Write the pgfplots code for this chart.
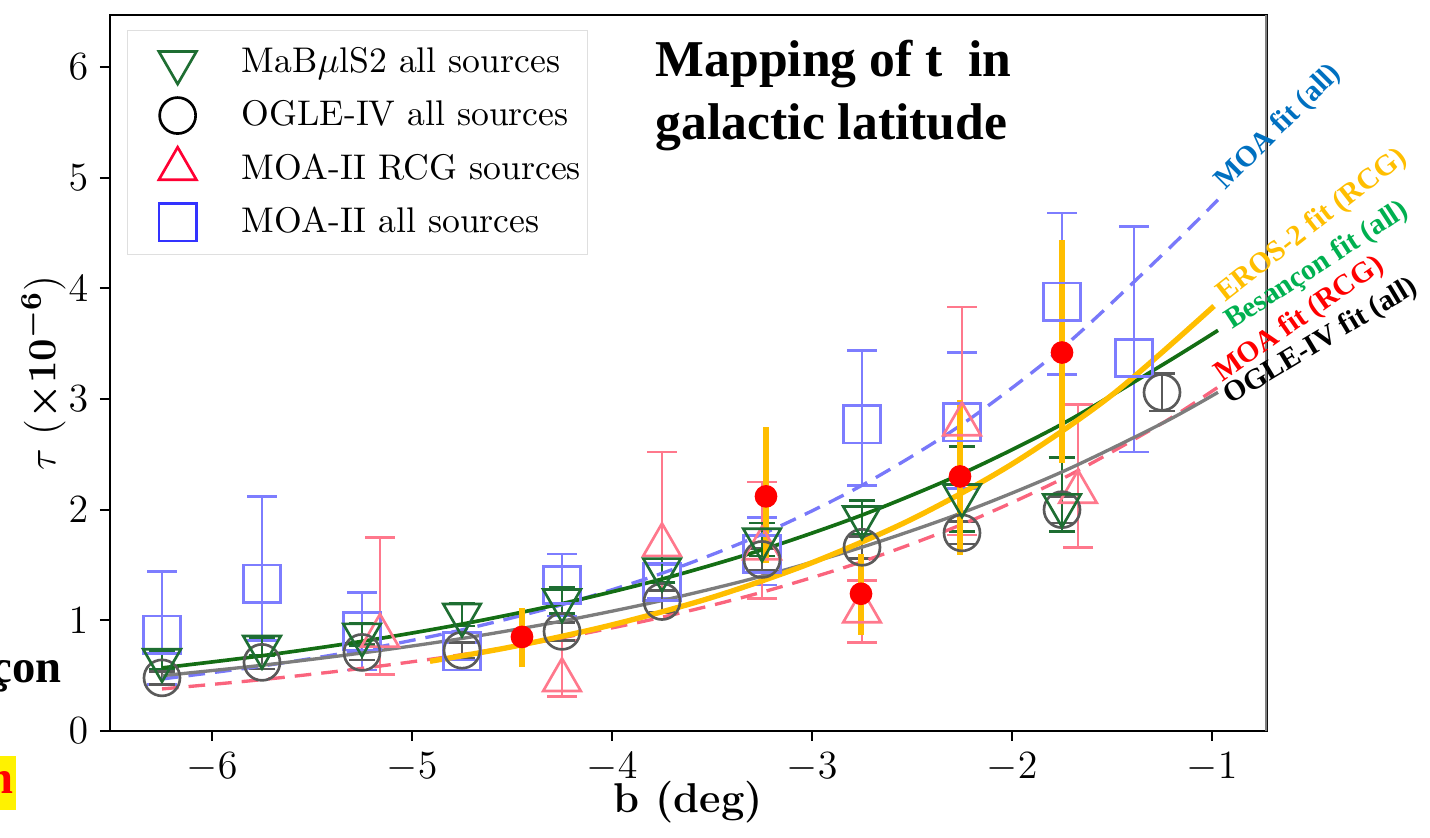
\documentclass[border=0pt]{standalone}
\usepackage{fontspec}
\usepackage{amsmath}
\usepackage{pgfplots}
\pgfplotsset{compat=1.18}
\newfontfamily\timesb{Liberation Serif}

\definecolor{moaall}{RGB}{125,125,255}
\definecolor{moarcg}{RGB}{255,120,140}
\definecolor{mabgreen}{RGB}{30,110,50}
\definecolor{oglegray}{RGB}{90,90,90}
\definecolor{besgreen}{RGB}{20,110,20}
\definecolor{fitgray}{RGB}{125,125,125}
\definecolor{moafitall}{RGB}{120,120,250}
\definecolor{moafitrcg}{RGB}{250,100,125}
\definecolor{erosgold}{RGB}{255,190,0}
\definecolor{lblblue}{RGB}{0,112,192}
\definecolor{lblgreen}{RGB}{0,176,80}

\begin{document}
\begin{tikzpicture}
\useasboundingbox (0,0) rectangle (429pt,251.4pt);
\begin{axis}[
  at={(33pt,32.1pt)}, anchor=south west,
  scale only axis, width=347.1pt, height=214.8pt,
  xmin=-6.51, xmax=-0.725, ymin=0, ymax=6.47,
  xtick={-6,-5,-4,-3,-2,-1}, ytick={0,1,2,3,4,5,6},
  tick align=outside, tick pos=left, major tick length=3pt,
  axis line style={line width=0.8pt},
  every tick/.style={black, line width=0.6pt},
  tick label style={font=\fontsize{12.5}{14}\selectfont},
  label style={font=\fontsize{12.5}{14}\selectfont},
  xlabel={\textbf{b (deg)}},
  ylabel={$\tau$\ ({\boldmath$\times10^{-6}$})},
  xlabel shift=-7pt, ylabel shift=-6pt,
  legend style={at={(0.0147,0.979)}, anchor=north west, draw=gray!25,
    font=\fontsize{10.7}{12}\selectfont, row sep=2.9pt, inner ysep=3pt, inner xsep=0pt},
  legend cell align=left,
  legend image code/.code={\path (0cm,0cm) (1.12cm,0cm); \draw[#1] plot coordinates {(0.52cm,0cm)};},
]
\addlegendimage{only marks, mark=triangle, mark size=6.5pt, mark options={rotate=180, draw=mabgreen, line width=0.8pt}}
\addlegendentry{MaB$\mu$lS2 all sources}
\addlegendimage{only marks, mark=o, mark size=5.4pt, mark options={draw=black, line width=0.8pt}}
\addlegendentry{OGLE-IV all sources}
\addlegendimage{only marks, mark=triangle, mark size=6.5pt, mark options={draw=red!80!magenta, line width=0.8pt}}
\addlegendentry{MOA-II RCG sources}
\addlegendimage{only marks, mark=square, mark size=5.6pt, mark options={draw=blue!80, line width=0.8pt}}
\addlegendentry{MOA-II all sources}

% MOA-II all sources
\addplot[only marks, mark=square, mark size=5.6pt, color=moaall, line width=0.8pt, forget plot,
  error bars/.cd, y dir=both, y explicit,
  error bar style={moaall, line width=0.8pt},
  error mark options={rotate=90, moaall, mark size=4.5pt, line width=0.8pt}]
  table[x=x, y=y, y error plus=ep, y error minus=em] {
x y ep em
-6.25 0.87 0.57 0.45
-5.75 1.33 0.79 0.51
-5.25 0.90 0.35 0.35
-4.75 0.72 0.08 0.08
-4.25 1.32 0.28 0.28
-3.75 1.35 0.15 0.15
-3.25 1.60 0.33 0.28
-2.75 2.77 0.67 0.55
-2.25 2.79 0.63 0.60
-1.75 3.88 0.80 0.66
-1.39 3.37 1.19 0.85
};

% MOA-II RCG sources
\addplot[only marks, mark=triangle, mark size=6.5pt, color=moarcg, line width=0.8pt, forget plot,
  error bars/.cd, y dir=both, y explicit,
  error bar style={moarcg, line width=0.8pt},
  error mark options={rotate=90, moarcg, mark size=4.5pt, line width=0.8pt}]
  table[x=x, y=y, y error plus=ep, y error minus=em] {
x y ep em
-5.16 0.86 0.89 0.35
-4.25 0.46 0.36 0.15
-3.75 1.68 0.84 0.50
-3.25 1.65 0.60 0.45
-2.75 1.08 0.28 0.28
-2.25 2.77 1.06 1.00
-1.67 2.16 0.79 0.50
};

% OGLE-IV all sources
\addplot[only marks, mark=o, mark size=5.4pt, color=oglegray, line width=0.8pt, forget plot,
  error bars/.cd, y dir=both, y explicit,
  error bar style={oglegray, line width=0.8pt},
  error mark options={rotate=90, oglegray, mark size=4pt, line width=0.8pt}]
  table[x=x, y=y, y error plus=ep, y error minus=em] {
x y ep em
-6.25 0.48 0.06 0.06
-5.75 0.62 0.06 0.06
-5.25 0.71 0.07 0.07
-4.75 0.73 0.07 0.07
-4.25 0.90 0.08 0.08
-3.75 1.17 0.10 0.10
-3.25 1.55 0.10 0.10
-2.75 1.66 0.10 0.10
-2.25 1.79 0.10 0.10
-1.75 2.00 0.12 0.12
-1.25 3.06 0.17 0.17
};

% MaBulS2 all sources
\addplot[only marks, mark=triangle, mark size=6.5pt, color=mabgreen, line width=0.8pt, forget plot,
  mark options={rotate=180},
  error bars/.cd, y dir=both, y explicit,
  error bar style={mabgreen, line width=0.8pt},
  error mark options={rotate=90, mabgreen, mark size=4pt, line width=0.8pt}]
  table[x=x, y=y, y error plus=ep, y error minus=em] {
x y ep em
-6.25 0.64 0.08 0.08
-5.75 0.76 0.08 0.08
-5.25 0.87 0.10 0.10
-4.75 1.05 0.10 0.10
-4.25 1.18 0.12 0.12
-3.75 1.46 0.12 0.12
-3.25 1.73 0.15 0.15
-2.75 1.93 0.15 0.15
-2.25 2.13 0.44 0.33
-1.75 2.04 0.43 0.24
};

% fits
\addplot[moafitall, line width=1pt, dash pattern=on 5pt off 3pt, smooth, forget plot] coordinates {
(-6.25,0.47) (-5.75,0.587) (-5.25,0.732) (-4.75,0.914) (-4.25,1.141) (-3.75,1.425)
(-3.25,1.778) (-2.75,2.220) (-2.25,2.771) (-1.75,3.459) (-1.25,4.30) (-0.97,4.80)};
\addplot[moafitrcg, line width=1pt, dash pattern=on 5pt off 3pt, smooth, forget plot] coordinates {
(-6.25,0.38) (-5.75,0.464) (-5.25,0.566) (-4.75,0.690) (-4.25,0.842) (-3.75,1.028)
(-3.25,1.254) (-2.75,1.530) (-2.25,1.867) (-1.75,2.278) (-1.25,2.780) (-0.97,3.107)};
\addplot[fitgray, line width=1pt, smooth, forget plot] coordinates {
(-6.25,0.50) (-5.75,0.594) (-5.25,0.705) (-4.75,0.836) (-4.25,0.993) (-3.75,1.179)
(-3.25,1.399) (-2.75,1.661) (-2.25,1.972) (-1.75,2.341) (-1.25,2.779) (-0.97,3.06)};
\addplot[besgreen, line width=1.1pt, smooth, forget plot] coordinates {
(-6.25,0.57) (-5.75,0.680) (-5.25,0.810) (-4.75,0.966) (-4.25,1.151) (-3.75,1.373)
(-3.25,1.637) (-2.75,1.951) (-2.25,2.326) (-1.75,2.773) (-1.25,3.306) (-0.97,3.62)};
\addplot[erosgold, line width=1.6pt, smooth, forget plot] coordinates {
(-4.91,0.63) (-4.5,0.761) (-4.0,0.959) (-3.5,1.207) (-3.0,1.521) (-2.5,1.915)
(-2.0,2.412) (-1.5,3.037) (-0.99,3.84)};

% EROS-2 points
\addplot[only marks, mark=*, mark size=3.2pt, color=red, forget plot,
  error bars/.cd, y dir=both, y explicit,
  error bar style={erosgold, line width=1.6pt}, error mark=none]
  table[x=x, y=y, y error plus=ep, y error minus=em] {
x y ep em
-4.45 0.85 0.26 0.27
-3.23 2.12 0.63 0.60
-2.755 1.24 0.36 0.37
-2.26 2.30 0.69 0.71
-1.75 3.42 1.02 1.00
};

\draw[gray, line width=1pt] (rel axis cs:1,0) -- (rel axis cs:1,1);
\end{axis}

\node[anchor=base west, inner sep=0, font=\timesb\bfseries\fontsize{15.5}{19}\selectfont] at (196.5pt,228.3pt) {Mapping of t\ \ in};
\node[anchor=base west, inner sep=0, font=\timesb\bfseries\fontsize{15.5}{19}\selectfont] at (196.5pt,209.4pt) {galactic latitude};

\begin{scope}[every node/.style={anchor=base west, inner sep=0, font=\timesb\bfseries\fontsize{8.8}{10.5}\selectfont}]
\node[lblblue, rotate=45] at (367.5pt,194pt) {MOA fit (all)};
\node[erosgold, rotate=38] at (367.5pt,160.5pt) {EROS-2 fit (RCG)};
\node[lblgreen, rotate=33] at (369.5pt,152.3pt) {Besançon fit (all)};
\node[red, rotate=35] at (366.5pt,136.5pt) {MOA fit (RCG)};
\node[black, rotate=31] at (369pt,129.8pt) {OGLE-IV fit (all)};
\end{scope}

\node[anchor=base east, inner sep=0, font=\timesb\bfseries\fontsize{14}{17}\selectfont] at (18.6pt,46.5pt) {Besançon};
\node[anchor=east, fill=yellow, text=red, inner xsep=1pt, minimum height=16pt, font=\timesb\bfseries\fontsize{14}{17}\selectfont] at (5.1pt,16.5pt) {n};
\end{tikzpicture}
\end{document}
